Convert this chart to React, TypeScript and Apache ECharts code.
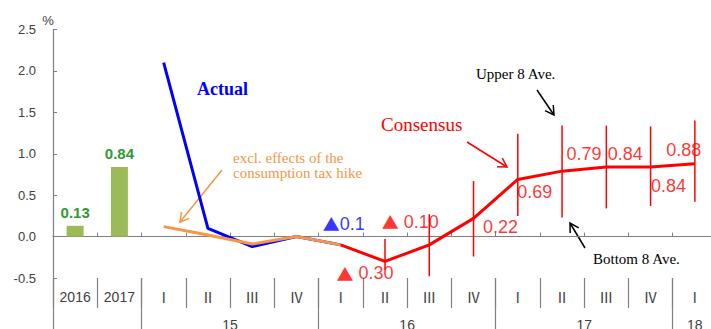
import React, { useEffect, useRef } from 'react';
import * as echarts from 'echarts';

// ---- data ----
const categories = ['2016', '2017', 'Ⅰ', 'Ⅱ', 'Ⅲ', 'Ⅳ', 'Ⅰ', 'Ⅱ', 'Ⅲ', 'Ⅳ', 'Ⅰ', 'Ⅱ', 'Ⅲ', 'Ⅳ', 'Ⅰ'];
const years = ['15', '16', '17', '18'];
const yearSpans = [[2, 5], [6, 9], [10, 13], [14, 14]]; // first/last category of each fiscal year
const annual = [0.13, 0.84, null, null, null, null, null, null, null, null, null, null, null, null, null];
const actual = [null, null, 2.1, 0.1, -0.12, 0.0, -0.1, null, null, null, null, null, null, null, null];
const exclTax = [null, null, 0.12, 0.02, -0.09, 0.0, -0.1, null, null, null, null, null, null, null, null];
const consensus = [null, null, null, null, null, null, -0.1, -0.3, -0.1, 0.22, 0.69, 0.79, 0.84, 0.84, 0.88];
const upper8 = [null, null, null, null, null, null, null, -0.03, 0.27, 0.67, 1.24, 1.34, 1.34, 1.33, 1.4];
const lower8 = [null, null, null, null, null, null, null, -0.4, -0.48, -0.24, 0.25, 0.23, 0.34, 0.37, 0.42];
const yTicks = { min: -0.5, max: 2.5, interval: 0.5 };

const SANS = "'Liberation Sans', Arial, sans-serif";
const SERIF = "'Liberation Serif', 'Times New Roman', serif";
const ROMAN = "'Noto Sans CJK JP', 'DejaVu Serif', serif";
const TRI = "'Noto Sans CJK JP', 'DejaVu Sans', sans-serif";
const GRAY = '#808080';
const TXT = '#404040';
const RED = '#ff0000';
const BLUE = '#0000ff';
const ORANGE = '#f79646';

const fmt = (v: number, d: number, gap: boolean) =>
  (v < 0 ? '{t|▲}' + (gap ? ' ' : '') : '') + Math.abs(v).toFixed(d);

function arrow(x1: number, y1: number, x2: number, y2: number, color: string) {
  const a = Math.atan2(y2 - y1, x2 - x1);
  const L = 10;
  const s = Math.PI / 6;
  return {
    type: 'group',
    children: [
      { type: 'line', shape: { x1, y1, x2, y2 }, style: { stroke: color, lineWidth: 1.5 } },
      {
        type: 'polyline',
        shape: {
          points: [
            [x2 - L * Math.cos(a - s), y2 - L * Math.sin(a - s)],
            [x2, y2],
            [x2 - L * Math.cos(a + s), y2 - L * Math.sin(a + s)],
          ],
        },
        style: { stroke: color, lineWidth: 1.5, fill: 'none' },
      },
    ],
  };
}

function buildOption() {
  const halfSteps = Array.from({ length: categories.length * 2 + 1 }, () => '');
  const longTicks = new Set<number>([0]);
  yearSpans.forEach(([f, l], k) => {
    halfSteps[f + l + 1] = years[k];
    longTicks.add(2 * f);
  });

  const ranges = upper8
    .map((u, i) => (u == null || lower8[i] == null ? null : [i, lower8[i], u]))
    .filter((d) => d != null);

  // label layout (offsets from the point)
  const labelSpecs: { i: number; v: number; text: string; color: string; off: [number, number] }[] = [
    { i: 6, v: actual[6] as number, text: fmt(actual[6] as number, 1, false), color: BLUE, off: [3, -21] },
    { i: 7, v: consensus[7] as number, text: fmt(consensus[7] as number, 2, true), color: RED, off: [-20, 12] },
    { i: 8, v: consensus[8] as number, text: fmt(consensus[8] as number, 2, true), color: RED, off: [-19, -23] },
    { i: 9, v: consensus[9] as number, text: fmt(consensus[9] as number, 2, false), color: RED, off: [27, 9] },
    { i: 10, v: consensus[10] as number, text: fmt(consensus[10] as number, 2, false), color: RED, off: [17, 13] },
    { i: 11, v: consensus[11] as number, text: fmt(consensus[11] as number, 2, false), color: RED, off: [22, -17] },
    { i: 12, v: consensus[12] as number, text: fmt(consensus[12] as number, 2, false), color: RED, off: [19, -13] },
    { i: 13, v: consensus[13] as number, text: fmt(consensus[13] as number, 2, false), color: RED, off: [18, 19] },
    { i: 14, v: consensus[14] as number, text: fmt(consensus[14] as number, 2, false), color: RED, off: [-11, -14] },
  ];

  return {
    animation: false,
    backgroundColor: '#ffffff',
    grid: { left: 53, top: 29.5, width: 664, height: 248.5, containLabel: false, outerBoundsMode: 'none' },
    xAxis: [
      {
        type: 'category',
        data: categories,
        boundaryGap: true,
        position: 'bottom',
        axisLine: { show: true, onZero: true, lineStyle: { color: GRAY, width: 1 } },
        axisTick: { show: true, inside: true, length: 4, interval: 0, lineStyle: { color: GRAY } },
        axisLabel: {
          interval: 0,
          margin: 12,
          fontSize: 14,
          color: TXT,
          fontFamily: SANS,
          hideOverlap: false,
          formatter: (v: string) => (/^\d/.test(v) ? v : `{r|${v}}`),
          rich: { r: { fontFamily: ROMAN, fontSize: 14, color: TXT } },
        },
        splitLine: { show: false },
      },
      {
        type: 'category',
        data: categories,
        boundaryGap: true,
        position: 'bottom',
        axisLine: { show: false, onZero: false },
        axisTick: { show: true, length: 30, interval: 0, lineStyle: { color: GRAY, width: 1.2 } },
        axisLabel: { show: false },
        splitLine: { show: false },
      },
      {
        type: 'category',
        data: halfSteps,
        boundaryGap: false,
        position: 'bottom',
        axisLine: { show: false, onZero: false },
        axisTick: {
          show: true,
          length: 52,
          interval: (idx: number) => longTicks.has(idx),
          lineStyle: { color: GRAY, width: 1.2 },
        },
        axisLabel: {
          interval: (_idx: number, val: string) => val !== '',
          margin: 40,
          fontSize: 14,
          color: TXT,
          fontFamily: SANS,
        },
        splitLine: { show: false },
      },
    ],
    yAxis: {
      type: 'value',
      min: yTicks.min,
      max: yTicks.max,
      interval: yTicks.interval,
      name: '%',
      nameLocation: 'end',
      nameGap: 3,
      nameTextStyle: { fontSize: 13, color: TXT, fontFamily: SANS, padding: [0, 10, 0, 0] },
      axisLine: { show: true, lineStyle: { color: GRAY, width: 1.2 } },
      axisTick: { show: true, inside: true, length: 4, lineStyle: { color: GRAY } },
      axisLabel: {
        margin: 17,
        fontSize: 13,
        color: TXT,
        fontFamily: SANS,
        formatter: (v: number) => v.toFixed(1),
      },
      splitLine: { show: false },
    },
    series: [
      {
        type: 'bar',
        name: 'Annual',
        xAxisIndex: 0,
        data: annual,
        barWidth: 17,
        itemStyle: { color: '#9bbb59' },
        label: {
          show: true,
          position: 'top',
          distance: 6,
          color: '#339933',
          fontWeight: 'bold',
          fontSize: 15,
          fontFamily: SANS,
          formatter: (p: any) => Number(p.value).toFixed(2),
        },
        z: 2,
      },
      {
        type: 'line',
        name: 'Actual',
        xAxisIndex: 0,
        data: actual,
        showSymbol: false,
        symbol: 'none',
        lineStyle: { color: BLUE, width: 3 },
        z: 3,
      },
      {
        type: 'line',
        name: 'excl. tax',
        xAxisIndex: 0,
        data: exclTax,
        showSymbol: false,
        symbol: 'none',
        lineStyle: { color: ORANGE, width: 3 },
        z: 4,
      },
      {
        type: 'line',
        name: 'Consensus',
        xAxisIndex: 0,
        data: consensus,
        showSymbol: false,
        symbol: 'none',
        lineStyle: { color: RED, width: 3 },
        z: 5,
      },
      {
        type: 'custom',
        name: 'Range',
        xAxisIndex: 0,
        data: ranges,
        encode: { x: 0, y: [1, 2] },
        renderItem: (_params: any, api: any) => {
          const i = api.value(0);
          const lo = api.coord([i, api.value(1)]);
          const hi = api.coord([i, api.value(2)]);
          return {
            type: 'line',
            shape: { x1: lo[0], y1: lo[1], x2: hi[0], y2: hi[1] },
            style: { stroke: RED, lineWidth: 1.5 },
          };
        },
        z: 5,
      },
      {
        type: 'scatter',
        name: 'labels',
        xAxisIndex: 0,
        symbol: 'circle',
        symbolSize: 1,
        itemStyle: { color: 'rgba(0,0,0,0)' },
        data: labelSpecs.map((s) => ({
          value: [s.i, s.v],
          label: {
            show: true,
            position: 'inside',
            offset: s.off,
            formatter: s.text,
            color: s.color,
            fontSize: 18,
            fontFamily: SANS,
            rich: { t: { fontFamily: TRI, fontSize: 17, color: s.color } },
          },
        })),
        z: 6,
      },
    ],
    graphic: [
      {
        type: 'text',
        x: 197,
        y: 89,
        style: { text: 'Actual', fontSize: 18, fontWeight: 'bold', fontFamily: SERIF, fill: BLUE, verticalAlign: 'middle' },
      },
      {
        type: 'text',
        x: 233,
        y: 165.5,
        style: {
          text: 'excl. effects of the\nconsumption tax hike',
          fontSize: 15,
          lineHeight: 15,
          fontFamily: SERIF,
          fill: ORANGE,
          verticalAlign: 'middle',
        },
      },
      {
        type: 'text',
        x: 381,
        y: 124,
        style: { text: 'Consensus', fontSize: 19, fontFamily: SERIF, fill: RED, verticalAlign: 'middle' },
      },
      {
        type: 'text',
        x: 476,
        y: 74,
        style: { text: 'Upper 8 Ave.', fontSize: 15, fontFamily: SERIF, fill: '#000000', verticalAlign: 'middle' },
      },
      {
        type: 'text',
        x: 593,
        y: 259,
        style: { text: 'Bottom 8 Ave.', fontSize: 15, fontFamily: SERIF, fill: '#000000', verticalAlign: 'middle' },
      },
      arrow(222, 170, 180, 222, ORANGE),
      arrow(467, 142, 507, 167, RED),
      arrow(537, 90, 554, 115, '#000000'),
      arrow(585, 248, 570, 223, '#000000'),
    ],
  };
}

export default function App() {
  const ref = useRef<HTMLDivElement>(null);
  useEffect(() => {
    if (!ref.current) return;
    const chart = echarts.init(ref.current, undefined, { renderer: 'svg' });
    chart.setOption(buildOption() as any);
    return () => chart.dispose();
  }, []);
  return (
    <div
      ref={ref}
      style={{ position: 'fixed', left: 0, top: 0, width: 711, height: 329, background: '#fff' }}
    />
  );
}
